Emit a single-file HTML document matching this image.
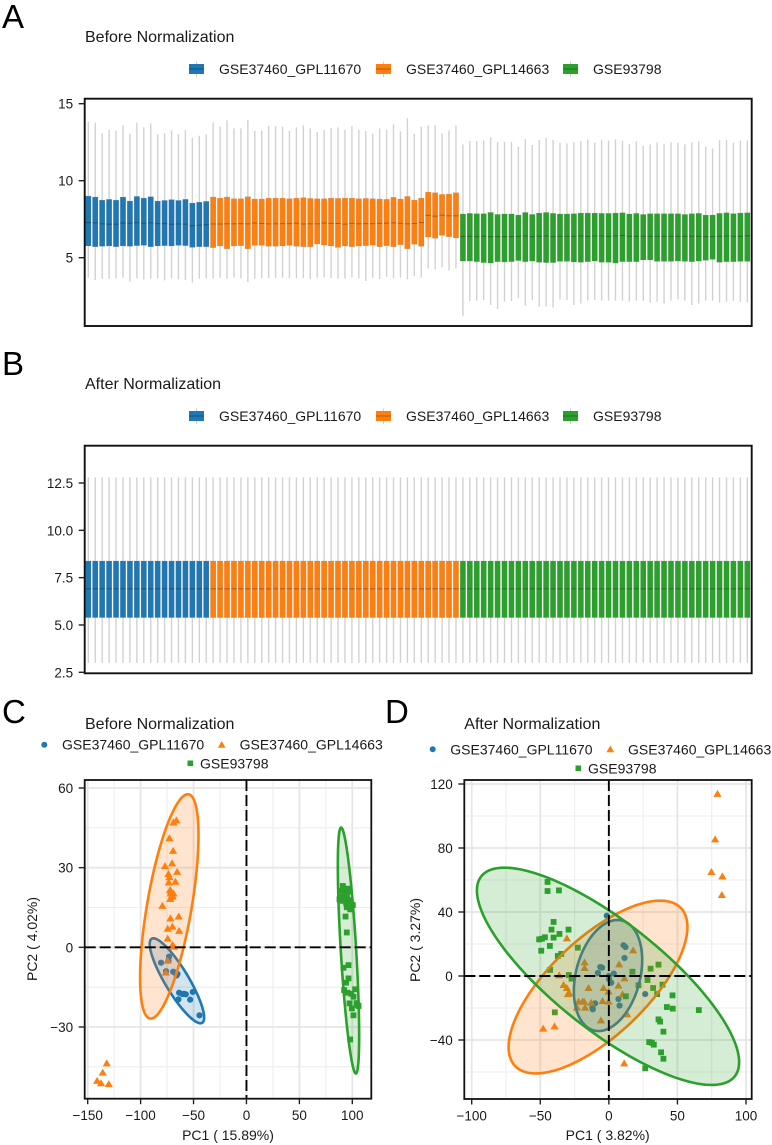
<!DOCTYPE html>
<html lang="en">
<head>
<meta charset="utf-8">
<title>Normalization comparison</title>
<style>
html,body{margin:0;padding:0;background:#fff;}
svg{display:block;font-family:"Liberation Sans",Arial,sans-serif;fill:#1a1a1a;}
.title{font-size:16px;}
.panel{font-size:33px;fill:#000;}
.leg{font-size:14px;}
.axt{font-size:14px;text-anchor:middle;}
.tick{font-size:13.5px;}
</style>
</head>
<body>
<svg id="root" width="772" height="1145" viewBox="0 0 772 1145">
  <rect width="772" height="1145" fill="#fff"/>

  <text class="panel" x="2" y="28">A</text>
  <text class="title" x="85" y="42">Before Normalization</text>
  <g>
    <line x1="196.5" x2="196.5" y1="61.5" y2="77" stroke="#ccc"/>
    <rect x="189" y="64" width="15" height="10" fill="#1f77b4"/>
    <line x1="189" x2="204" y1="69" y2="69" stroke="#000" stroke-opacity=".3"/>
    <text class="leg" x="219" y="74">GSE37460_GPL11670</text>
    <line x1="383.5" x2="383.5" y1="61.5" y2="77" stroke="#ccc"/>
    <rect x="376" y="64" width="15" height="10" fill="#ff7f0e"/>
    <line x1="376" x2="391" y1="69" y2="69" stroke="#000" stroke-opacity=".3"/>
    <text class="leg" x="406" y="74">GSE37460_GPL14663</text>
    <line x1="570.5" x2="570.5" y1="61.5" y2="77" stroke="#ccc"/>
    <rect x="563" y="64" width="15" height="10" fill="#2ca02c"/>
    <line x1="563" x2="578" y1="69" y2="69" stroke="#000" stroke-opacity=".3"/>
    <text class="leg" x="593" y="74">GSE93798</text>
  </g>
  <g id="plotA"></g>

  <text class="panel" x="2" y="375">B</text>
  <text class="title" x="85" y="389">After Normalization</text>
  <g>
    <line x1="196.5" x2="196.5" y1="408.5" y2="424" stroke="#ccc"/>
    <rect x="189" y="411" width="15" height="10" fill="#1f77b4"/>
    <line x1="189" x2="204" y1="416" y2="416" stroke="#000" stroke-opacity=".3"/>
    <text class="leg" x="219" y="421">GSE37460_GPL11670</text>
    <line x1="383.5" x2="383.5" y1="408.5" y2="424" stroke="#ccc"/>
    <rect x="376" y="411" width="15" height="10" fill="#ff7f0e"/>
    <line x1="376" x2="391" y1="416" y2="416" stroke="#000" stroke-opacity=".3"/>
    <text class="leg" x="406" y="421">GSE37460_GPL14663</text>
    <line x1="570.5" x2="570.5" y1="408.5" y2="424" stroke="#ccc"/>
    <rect x="563" y="411" width="15" height="10" fill="#2ca02c"/>
    <line x1="563" x2="578" y1="416" y2="416" stroke="#000" stroke-opacity=".3"/>
    <text class="leg" x="593" y="421">GSE93798</text>
  </g>
  <g id="plotB"></g>

  <text class="panel" x="2" y="723">C</text>
  <text class="title" x="85" y="729">Before Normalization</text>
  <g>
    <circle cx="44.3" cy="744.7" r="3" fill="#1f77b4"/>
    <text class="leg" x="62" y="749.7">GSE37460_GPL11670</text>
    <polygon points="221.7,740.9 225.5,747.7 217.9,747.7" fill="#ff7f0e"/>
    <text class="leg" x="239.6" y="749.7">GSE37460_GPL14663</text>
    <rect x="187.5" y="760.5" width="5.6" height="5.6" fill="#2ca02c"/>
    <text class="leg" x="200" y="768.3">GSE93798</text>
  </g>
  <g id="plotC"></g>
  <text class="axt" x="228" y="1140">PC1 ( 15.89%)</text>
  <text class="axt" transform="translate(37,939) rotate(-90)">PC2 ( 4.02%)</text>

  <text class="panel" x="385" y="723">D</text>
  <text class="title" x="464.3" y="729">After Normalization</text>
  <g>
    <circle cx="432.7" cy="749.3" r="3" fill="#1f77b4"/>
    <text class="leg" x="450.3" y="754.3">GSE37460_GPL11670</text>
    <polygon points="610.3,745.5 614.1,752.3 606.5,752.3" fill="#ff7f0e"/>
    <text class="leg" x="628" y="754.3">GSE37460_GPL14663</text>
    <rect x="575.5" y="765.5" width="5.6" height="5.6" fill="#2ca02c"/>
    <text class="leg" x="588" y="773.3">GSE93798</text>
  </g>
  <g id="plotD"></g>
  <text class="axt" x="607.7" y="1140">PC1 ( 3.82%)</text>
  <text class="axt" transform="translate(420,940) rotate(-90)">PC2 ( 3.27%)</text>
</svg>

<script>
// ---------- shared categories ----------
const batchNames = ['gpl11670', 'gpl14663', 'gse93798'];
const batchCounts = [18, 36, 42];
const batchColors = ['#1f77b4', '#ff7f0e', '#2ca02c'];

// ---------- panel A: box statistics per sample ----------
const beforeTicks = [5, 10, 15];
const beforeHigh = [
13.83,13.77,13.07,13.29,13.25,13.60,13.05,13.77,13.46,13.72,13.00,13.07,13.27,13.03,13.29,12.77,12.92,13.00,
13.79,13.51,13.92,13.40,13.40,13.94,13.25,13.25,13.55,13.55,13.51,13.25,13.46,13.59,13.40,13.16,13.29,13.42,13.46,13.29,13.55,13.29,13.23,13.05,13.40,13.29,13.66,13.20,14.05,13.05,13.51,13.59,13.61,13.07,13.27,13.59,
12.36,12.58,12.58,12.62,12.81,12.51,12.53,12.53,12.21,12.71,12.32,12.64,12.79,12.64,12.47,12.42,12.49,12.58,12.68,12.47,12.66,12.62,12.68,12.60,12.38,12.55,12.27,12.36,12.49,12.38,12.49,12.47,12.36,12.49,12.55,12.21,12.10,12.64,12.66,12.47,12.60,12.62];
const beforeQ3 = [
9.00,8.94,8.74,8.79,8.74,8.94,8.68,8.98,8.87,8.96,8.68,8.72,8.77,8.72,8.79,8.55,8.61,8.66,
8.94,8.87,8.94,8.83,8.83,8.96,8.81,8.81,8.87,8.87,8.87,8.83,8.87,8.90,8.85,8.83,8.83,8.87,8.85,8.87,8.87,8.83,8.85,8.83,8.81,8.79,8.92,8.81,8.98,8.74,8.87,9.26,9.22,9.11,9.13,9.22,
7.84,7.88,7.86,7.86,7.94,7.81,7.84,7.84,7.77,7.94,7.81,7.90,7.94,7.88,7.84,7.84,7.86,7.90,7.90,7.90,7.88,7.88,7.90,7.92,7.84,7.88,7.81,7.86,7.86,7.86,7.86,7.86,7.81,7.86,7.88,7.77,7.77,7.88,7.92,7.86,7.90,7.92];
const beforeMedian = [
7.28,7.26,7.20,7.18,7.18,7.25,7.24,7.27,7.24,7.26,7.21,7.21,7.18,7.19,7.18,7.08,7.12,7.14,
7.19,7.19,7.20,7.20,7.21,7.20,7.25,7.22,7.20,7.20,7.21,7.21,7.24,7.19,7.20,7.20,7.25,7.23,7.22,7.18,7.23,7.20,7.21,7.21,7.23,7.24,7.26,7.23,7.20,7.22,7.28,7.75,7.70,7.76,7.72,7.72,
6.39,6.39,6.37,6.39,6.37,6.37,6.37,6.37,6.39,6.41,6.37,6.39,6.41,6.37,6.39,6.39,6.39,6.41,6.39,6.41,6.41,6.39,6.41,6.44,6.39,6.39,6.39,6.39,6.39,6.39,6.39,6.39,6.39,6.39,6.39,6.37,6.37,6.39,6.41,6.39,6.39,6.42];
const beforeQ1 = [
5.76,5.71,5.74,5.76,5.71,5.76,5.74,5.78,5.80,5.71,5.76,5.78,5.76,5.80,5.78,5.67,5.71,5.71,
5.65,5.76,5.58,5.76,5.78,5.58,5.80,5.80,5.74,5.74,5.76,5.80,5.74,5.71,5.71,5.89,5.82,5.76,5.67,5.76,5.71,5.76,5.78,5.82,5.71,5.78,5.71,5.84,5.58,5.87,5.74,6.34,6.26,6.45,6.36,6.28,
4.78,4.78,4.74,4.68,4.65,4.74,4.72,4.74,4.81,4.74,4.78,4.70,4.68,4.68,4.76,4.76,4.72,4.70,4.74,4.78,4.70,4.70,4.65,4.74,4.74,4.74,4.85,4.85,4.76,4.76,4.76,4.78,4.76,4.74,4.78,4.83,4.89,4.70,4.74,4.74,4.76,4.76];
const beforeLow = [
3.70,3.55,3.64,3.64,3.66,3.70,3.44,3.66,3.59,3.64,3.66,3.53,3.66,3.59,3.55,3.38,3.64,3.64,
3.66,3.70,3.64,3.70,3.66,3.42,3.64,3.68,3.68,3.70,3.70,3.68,3.66,3.68,3.62,3.70,3.72,3.68,3.64,3.64,3.72,3.66,3.49,3.70,3.62,3.77,3.66,3.72,3.59,3.81,3.70,4.31,4.24,4.37,4.16,4.31,
1.21,2.19,2.21,2.25,1.93,1.67,2.14,2.19,2.36,1.88,2.25,1.82,1.82,1.77,2.29,2.25,1.93,2.03,2.21,2.25,2.21,2.21,2.21,2.21,2.14,2.21,2.21,2.08,2.14,2.03,2.21,2.29,2.21,1.93,2.03,2.21,2.21,2.08,2.14,2.21,2.14,2.10];

// ---------- panel B: box statistics per sample ----------
const afterTicks = [2.5, 5, 7.5, 10, 12.5];
const afterTickLabels = ['2.5', '5.0', '7.5', '10.0', '12.5'];
const afterHigh = [
12.8,12.8,12.8,12.8,12.8,12.8,12.8,12.8,12.8,12.8,12.8,12.8,12.8,12.8,12.8,12.8,12.8,12.8,
12.8,12.8,12.8,12.8,12.8,12.8,12.8,12.8,12.8,12.8,12.8,12.8,12.8,12.8,12.8,12.8,12.8,12.8,12.8,12.8,12.8,12.8,12.8,12.8,12.8,12.8,12.8,12.8,12.8,12.8,12.8,12.8,12.8,12.8,12.8,12.8,
12.8,12.8,12.8,12.8,12.8,12.8,12.8,12.8,12.8,12.8,12.8,12.8,12.8,12.8,12.8,12.8,12.8,12.8,12.8,12.8,12.8,12.8,12.8,12.8,12.8,12.8,12.8,12.8,12.8,12.8,12.8,12.8,12.8,12.8,12.8,12.8,12.8,12.8,12.8,12.8,12.8,12.8];
const afterQ3 = [
8.38,8.38,8.38,8.38,8.38,8.38,8.38,8.38,8.38,8.38,8.38,8.38,8.38,8.38,8.38,8.38,8.38,8.38,
8.38,8.38,8.38,8.38,8.38,8.38,8.38,8.38,8.38,8.38,8.38,8.38,8.38,8.38,8.38,8.38,8.38,8.38,8.38,8.38,8.38,8.38,8.38,8.38,8.38,8.38,8.38,8.38,8.38,8.38,8.38,8.38,8.38,8.38,8.38,8.38,
8.38,8.38,8.38,8.38,8.38,8.38,8.38,8.38,8.38,8.38,8.38,8.38,8.38,8.38,8.38,8.38,8.38,8.38,8.38,8.38,8.38,8.38,8.38,8.38,8.38,8.38,8.38,8.38,8.38,8.38,8.38,8.38,8.38,8.38,8.38,8.38,8.38,8.38,8.38,8.38,8.38,8.38];
const afterMedian = [
6.91,6.91,6.91,6.91,6.91,6.91,6.91,6.91,6.91,6.91,6.91,6.91,6.91,6.91,6.91,6.91,6.91,6.91,
6.91,6.91,6.91,6.91,6.91,6.91,6.91,6.91,6.91,6.91,6.91,6.91,6.91,6.91,6.91,6.91,6.91,6.91,6.91,6.91,6.91,6.91,6.91,6.91,6.91,6.91,6.91,6.91,6.91,6.91,6.91,6.91,6.91,6.91,6.91,6.91,
6.91,6.91,6.91,6.91,6.91,6.91,6.91,6.91,6.91,6.91,6.91,6.91,6.91,6.91,6.91,6.91,6.91,6.91,6.91,6.91,6.91,6.91,6.91,6.91,6.91,6.91,6.91,6.91,6.91,6.91,6.91,6.91,6.91,6.91,6.91,6.91,6.91,6.91,6.91,6.91,6.91,6.91];
const afterQ1 = [
5.39,5.39,5.39,5.39,5.39,5.39,5.39,5.39,5.39,5.39,5.39,5.39,5.39,5.39,5.39,5.39,5.39,5.39,
5.39,5.39,5.39,5.39,5.39,5.39,5.39,5.39,5.39,5.39,5.39,5.39,5.39,5.39,5.39,5.39,5.39,5.39,5.39,5.39,5.39,5.39,5.39,5.39,5.39,5.39,5.39,5.39,5.39,5.39,5.39,5.39,5.39,5.39,5.39,5.39,
5.39,5.39,5.39,5.39,5.39,5.39,5.39,5.39,5.39,5.39,5.39,5.39,5.39,5.39,5.39,5.39,5.39,5.39,5.39,5.39,5.39,5.39,5.39,5.39,5.39,5.39,5.39,5.39,5.39,5.39,5.39,5.39,5.39,5.39,5.39,5.39,5.39,5.39,5.39,5.39,5.39,5.39];
const afterLow = [
3.0,3.0,3.0,3.0,3.0,3.0,3.0,3.0,3.0,3.0,3.0,3.0,3.0,3.0,3.0,3.0,3.0,3.0,
3.0,3.0,3.0,3.0,3.0,3.0,3.0,3.0,3.0,3.0,3.0,3.0,3.0,3.0,3.0,3.0,3.0,3.0,3.0,3.0,3.0,3.0,3.0,3.0,3.0,3.0,3.0,3.0,3.0,3.0,3.0,3.0,3.0,3.0,3.0,3.0,
3.0,3.0,3.0,3.0,3.0,3.0,3.0,3.0,3.0,3.0,3.0,3.0,3.0,3.0,3.0,3.0,3.0,3.0,3.0,3.0,3.0,3.0,3.0,3.0,3.0,3.0,3.0,3.0,3.0,3.0,3.0,3.0,3.0,3.0,3.0,3.0,3.0,3.0,3.0,3.0,3.0,3.0];

// ---------- panel C: PCA before normalization ----------
const pcaBeforeXTicks = [-150, -100, -50, 0, 50, 100];
const pcaBeforeXMinor = [-125, -75, -25, 25, 75];
const pcaBeforeYTicks = [-30, 0, 30, 60];
const pcaBeforeYMinor = [-45, -15, 15, 45];
const beforeBlueX = [-80.7,-73.1,-73.7,-69.3,-65.2,-66,-63.6,-58.9,-57.3,-50.7,-64.3,-53.2,-44.4,-76,-60.5,-68];
const beforeBlueY = [-5.8,-3.5,-5.0,-9.2,-10.0,-10.6,-17.1,-17.5,-17.7,-16.8,-19.6,-19.7,-25.6,-9,-17.6,-9.4];
const beforeOrangeX = [-66.2,-69.0,-72.8,-69.3,-70.3,-76.9,-65.5,-73.7,-72.8,-67.1,-73.4,-72.1,-71.2,-69.0,-70.3,-72.1,-69.9,-79.4,-71.8,-64.0,-69.9,-74.4,-63.6,-74.4,-69.9,-74.4,-76.2,-132.0,-135.8,-141.1,-137.4,-130.1,-71.5,-68.5];
const beforeOrangeY = [47.8,47.0,41.1,36.3,31.6,30.6,28.4,27.6,26.4,24.7,24.4,21.6,21.0,20.3,19.7,18.2,19.1,15.6,10.9,11.6,7.8,7.0,6.2,3.3,0.9,-5.0,-9.5,-43.7,-47.2,-50.3,-51.2,-51.5,20.3,0.2];
const beforeGreenX = [91.1,95.8,89.2,93.3,90.1,94.8,87.9,91.7,97.4,94.2,100.5,94.8,98.0,93.6,94.8,96.4,91.7,96.4,94.2,92.3,95.5,102.7,101.1,97.4,104.9,105.9,99.6,101.1,98.0,91,97,99,104,95,99];
const beforeGreenY = [23.1,22.1,21.3,21.0,19.1,19.1,18.1,17.8,17.8,16.6,15.9,15.1,14.3,11.6,5.6,-6.7,-7.7,-11.7,-13.3,-16.1,-17.1,-15.8,-18.6,-21.1,-21.7,-22.1,-23.0,-25.6,-34.7,17.5,21,-17.5,-21,18.5,16.2];
const beforeEllipseCx = [-65.7, -72.9, 96.4];
const beforeEllipseCy = [-12.6, 15.4, -1.2];
const beforeEllipseRx = [25.7, 27.6, 10.08];
const beforeEllipseRy = [16.0, 42.25, 46.3];
const beforeEllipseRho = [-0.865, 0.634, -0.69];

// ---------- panel D: PCA after normalization ----------
const pcaAfterXTicks = [-100, -50, 0, 50, 100];
const pcaAfterXMinor = [-75, -25, 25, 75];
const pcaAfterYTicks = [-40, 0, 40, 80, 120];
const pcaAfterYMinor = [-60, -20, 20, 60, 100];
const afterBlueX = [-1.5,10.7,12.1,11.4,-6.3,-4.9,-8.0,3.6,0.2,1.7,26.5,7.0,7.8,-10.0,-11.7,0,-5.5,-12];
const afterBlueY = [37.7,19.2,18.1,11.3,5.6,5.2,1.9,1.5,-2.1,-4.2,-11.3,-14.4,-18.5,-17.1,-20.8,0,5.4,-20];
const afterOrangeX = [79.2,77.5,74.8,82.8,82.4,-30.6,17.7,7.5,-17.7,-17.7,-36.2,11.4,-33.0,-30.6,-28.9,-29.9,-14.8,-3.9,7.0,-0.2,10.0,-22.1,-19.2,-18.0,-12.9,-4.6,-0.2,-17.3,-23.3,13.4,-5.8,-47.9,-39.6,11.2];
const afterOrangeY = [113.8,85.4,65.0,62.3,50.6,23.5,16.0,7.3,8.5,5.0,0.4,-1.5,-5.6,-7.5,-10.8,-11.3,-7.5,-7.5,-6.0,-9.8,-11.5,-16.0,-16.0,-16.0,-16.7,-15.6,-16.0,-19.8,-19.8,-24.0,-27.7,-32.9,-31.5,-54.6];
const afterGreenX = [-44.7,-44.7,-36.4,-40.3,-41.8,-29.4,-46.6,-36.0,-40.3,-50.8,-48.8,-43.0,-49.3,-22.6,-34.7,-37.2,30.4,36.2,17.2,-42.8,-29.2,-27.2,28.2,21.6,39.1,32.3,35.2,12.4,46.4,42.3,46.6,65.6,-39.4,36.2,37.4,39.8,29.4,31.3,32.8,38.1,39.8,26.5];
const afterGreenY = [58.8,53.1,53.5,33.8,29.0,29.0,24.2,26.3,24.0,22.9,23.3,18.8,15.8,17.7,13.8,12.5,4.6,7.1,2.7,3.8,0.6,-1.7,-2.5,-5.8,-5.4,-7.5,-11.3,-12.7,-12.1,-19.4,-20.4,-21.3,-22.7,-27.1,-28.5,-34.8,-41.3,-41.7,-42.9,-47.7,-51.7,-57.7];
const afterEllipseCx = [-0.6, -7.9, -0.6];
const afterEllipseCy = [0.3, -6.9, -0.2];
const afterEllipseRx = [24.9, 65.2, 95.6];
const afterEllipseRy = [34.7, 54, 67.9];
const afterEllipseRho = [0.278, 0.695, -0.79];

// ---------- drawing helpers ----------
const NS = 'http://www.w3.org/2000/svg';
function make(parent, tag, attrs, name) {
  const el = document.createElementNS(NS, tag);
  for (const k in attrs) el.setAttribute(k, attrs[k]);
  
  
  parent.appendChild(el);
  return el;
}
function linear(d0, d1, r0, r1) {
  return function (v) { return r0 + (v - d0) * (r1 - r0) / (d1 - d0); };
}
function fmt(v) { return String(v).replace('-', '\u2212'); }

function yTicks(g, box, ticks, labels, y) {
  ticks.forEach(function (t, i) {
    make(g, 'line', {x1: box.l - 6, x2: box.l, y1: y(t), y2: y(t), stroke: '#222', 'stroke-width': 1.4}, 'y-axis-tick');
    const tx = make(g, 'text', {x: box.l - 11.5, y: y(t) + 5, 'text-anchor': 'end', class: 'tick'}, 'y-axis-tick-label');
    tx.textContent = labels ? labels[i] : fmt(t);
  });
}

function boxPanel(g, box, y, ticks, labels, hi, q3, med, q1, lo) {
  const n = hi.length;
  const x = linear(0, n - 1, 88.3, 747.3);
  const colorOf = [];
  batchCounts.forEach(function (c, b) { for (let k = 0; k < c; k++) colorOf.push(b); });
  for (let i = 0; i < n; i++) {
    const b = colorOf[i];
    const cx = x(i);
    const grp = make(g, 'g', {}, 'box-' + batchNames[b]);
    make(grp, 'line', {x1: cx, x2: cx, y1: y(hi[i]), y2: y(lo[i]), stroke: '#d2d2d2', 'stroke-width': 1.4}, 'whisker');
    make(grp, 'rect', {x: cx - 2.75, y: y(q3[i]), width: 5.5, height: y(q1[i]) - y(q3[i]), fill: batchColors[b], stroke: '#888', 'stroke-opacity': .35, 'stroke-width': .5}, 'box-body');
    make(grp, 'line', {x1: cx - 2.75, x2: cx + 2.75, y1: y(med[i]), y2: y(med[i]), stroke: '#000', 'stroke-opacity': .3, 'stroke-width': 1}, 'median');
  }
  make(g, 'rect', {x: box.l, y: box.t, width: box.r - box.l, height: box.b - box.t, fill: 'none', stroke: '#111', 'stroke-width': 1.9}, 'plot-frame');
  yTicks(g, box, ticks, labels, y);
}

function ellipsePath(x, y, cx, cy, rx, ry, rho) {
  const phi = Math.acos(rho);
  let d = '';
  for (let k = 0; k < 180; k++) {
    const t = k / 180 * 2 * Math.PI;
    d += (k ? 'L' : 'M') + x(cx + rx * Math.cos(t)).toFixed(2) + ' ' + y(cy + ry * Math.cos(t - phi)).toFixed(2);
  }
  return d + 'Z';
}

function pcaPanel(g, box, x, y, cfg) {
  cfg.xMinor.forEach(function (v) { make(g, 'line', {x1: x(v), x2: x(v), y1: box.t, y2: box.b, stroke: '#eeeeee', 'stroke-width': 1.1}, 'minor-grid-x'); });
  cfg.yMinor.forEach(function (v) { make(g, 'line', {x1: box.l, x2: box.r, y1: y(v), y2: y(v), stroke: '#eeeeee', 'stroke-width': 1.1}, 'minor-grid-y'); });
  cfg.xTicks.forEach(function (v) { make(g, 'line', {x1: x(v), x2: x(v), y1: box.t, y2: box.b, stroke: '#e6e6e6', 'stroke-width': 1.8}, 'major-grid-x'); });
  cfg.yTicks.forEach(function (v) { make(g, 'line', {x1: box.l, x2: box.r, y1: y(v), y2: y(v), stroke: '#e6e6e6', 'stroke-width': 1.8}, 'major-grid-y'); });

  cfg.blueX.forEach(function (v, i) {
    make(g, 'circle', {cx: x(v), cy: y(cfg.blueY[i]), r: 3.1, fill: batchColors[0]}, 'point-gpl11670');
  });
  cfg.orangeX.forEach(function (v, i) {
    const px = x(v), py = y(cfg.orangeY[i]);
    make(g, 'polygon', {points: px + ',' + (py - 4) + ' ' + (px + 4.1) + ',' + (py + 3) + ' ' + (px - 4.1) + ',' + (py + 3), fill: batchColors[1]}, 'point-gpl14663');
  });
  cfg.greenX.forEach(function (v, i) {
    make(g, 'rect', {x: x(v) - 2.9, y: y(cfg.greenY[i]) - 2.9, width: 5.8, height: 5.8, fill: batchColors[2]}, 'point-gse93798');
  });

  cfg.cx.forEach(function (c, i) {
    make(g, 'path', {d: ellipsePath(x, y, c, cfg.cy[i], cfg.rx[i], cfg.ry[i], cfg.rho[i]), fill: batchColors[i], 'fill-opacity': .2, stroke: batchColors[i], 'stroke-width': 2.6}, 'confidence-ellipse-' + batchNames[i]);
  });

  make(g, 'line', {x1: x(0), x2: x(0), y1: box.t, y2: box.b, stroke: '#000', 'stroke-width': 1.9, 'stroke-dasharray': '11 4'}, 'zero-line-vertical');
  make(g, 'line', {x1: box.l, x2: box.r, y1: y(0), y2: y(0), stroke: '#000', 'stroke-width': 1.9, 'stroke-dasharray': '11 4'}, 'zero-line-horizontal');
  make(g, 'rect', {x: box.l, y: box.t, width: box.r - box.l, height: box.b - box.t, fill: 'none', stroke: '#111', 'stroke-width': 1.8}, 'plot-frame');

  yTicks(g, box, cfg.yTicks, null, y);
  cfg.xTicks.forEach(function (t) {
    make(g, 'line', {x1: x(t), x2: x(t), y1: box.b, y2: box.b + 5.5, stroke: '#222', 'stroke-width': 1.4}, 'x-axis-tick');
    const tx = make(g, 'text', {x: x(t), y: box.b + 21.5, 'text-anchor': 'middle', class: 'tick'}, 'x-axis-tick-label');
    tx.textContent = fmt(t);
  });
}

// ---------- render ----------
boxPanel(document.getElementById('plotA'), {l: 84.7, r: 751.7, t: 98.7, b: 326},
  linear(5, 15, 257.7, 103.7), beforeTicks, null, beforeHigh, beforeQ3, beforeMedian, beforeQ1, beforeLow);

boxPanel(document.getElementById('plotB'), {l: 84.7, r: 751.7, t: 445.7, b: 673.3},
  linear(2.5, 12.5, 672.3, 483), afterTicks, afterTickLabels, afterHigh, afterQ3, afterMedian, afterQ1, afterLow);

pcaPanel(document.getElementById('plotC'), {l: 84.7, r: 371.3, t: 780, b: 1098.7},
  linear(-150, 100, 87.7, 352.3), linear(-30, 60, 1027, 788), {
    xTicks: pcaBeforeXTicks, xMinor: pcaBeforeXMinor, yTicks: pcaBeforeYTicks, yMinor: pcaBeforeYMinor,
    blueX: beforeBlueX, blueY: beforeBlueY, orangeX: beforeOrangeX, orangeY: beforeOrangeY, greenX: beforeGreenX, greenY: beforeGreenY,
    cx: beforeEllipseCx, cy: beforeEllipseCy, rx: beforeEllipseRx, ry: beforeEllipseRy, rho: beforeEllipseRho
  });

pcaPanel(document.getElementById('plotD'), {l: 464.3, r: 751.7, t: 780, b: 1099},
  linear(-100, 100, 471.7, 746), linear(-40, 120, 1040, 784), {
    xTicks: pcaAfterXTicks, xMinor: pcaAfterXMinor, yTicks: pcaAfterYTicks, yMinor: pcaAfterYMinor,
    blueX: afterBlueX, blueY: afterBlueY, orangeX: afterOrangeX, orangeY: afterOrangeY, greenX: afterGreenX, greenY: afterGreenY,
    cx: afterEllipseCx, cy: afterEllipseCy, rx: afterEllipseRx, ry: afterEllipseRy, rho: afterEllipseRho
  });
</script>
</body>
</html>
